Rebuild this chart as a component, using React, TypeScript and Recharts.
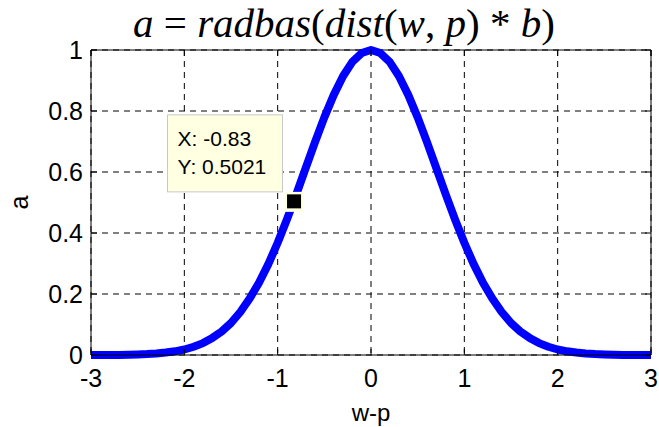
import React from 'react';
import {
  LineChart,
  Line,
  XAxis,
  YAxis,
  CartesianGrid,
  ReferenceLine,
  ReferenceDot,
} from 'recharts';

// Distance w-p (horizontal) and the radial basis output a (vertical)
const wp = [
  -3, -2.9, -2.8, -2.7, -2.6, -2.5, -2.4, -2.3, -2.2, -2.1,
  -2, -1.9, -1.8, -1.7, -1.6, -1.5, -1.4, -1.3, -1.2, -1.1,
  -1, -0.9, -0.8, -0.7, -0.6, -0.5, -0.4, -0.3, -0.2, -0.1,
  0, 0.1, 0.2, 0.3, 0.4, 0.5, 0.6, 0.7, 0.8, 0.9,
  1, 1.1, 1.2, 1.3, 1.4, 1.5, 1.6, 1.7, 1.8, 1.9,
  2, 2.1, 2.2, 2.3, 2.4, 2.5, 2.6, 2.7, 2.8, 2.9, 3,
];
const aOut = [
  0, 0, 0, 0, 0.001, 0.002, 0.003, 0.005, 0.008, 0.012,
  0.018, 0.027, 0.039, 0.056, 0.077, 0.105, 0.141, 0.185, 0.237, 0.298,
  0.368, 0.445, 0.527, 0.613, 0.698, 0.779, 0.852, 0.914, 0.961, 0.99,
  1, 0.99, 0.961, 0.914, 0.852, 0.779, 0.698, 0.613, 0.527, 0.445,
  0.368, 0.298, 0.237, 0.185, 0.141, 0.105, 0.077, 0.056, 0.039, 0.027,
  0.018, 0.012, 0.008, 0.005, 0.003, 0.002, 0.001, 0, 0, 0, 0,
];
const xTicks = [-3, -2, -1, 0, 1, 2, 3];
const yTicks = [0, 0.2, 0.4, 0.6, 0.8, 1];

// Data cursor
const tipX = -0.83;
const tipY = 0.5021;

const data = wp.map((x, i) => ({ wp: x, a: aOut[i] }));

const W = 659;
const H = 427;
const PLOT_LEFT = 91;
const PLOT_TOP = 50;
const PLOT_RIGHT_PAD = 8;
const X_AXIS_H = 72;
const PLOT_W = W - PLOT_LEFT - PLOT_RIGHT_PAD;
const PLOT_H = H - PLOT_TOP - X_AXIS_H;
const TICK_LEN = 6;

const tickFont = {
  fontFamily: '"Liberation Sans", Arial, sans-serif',
  fontSize: 25,
  fill: '#000',
};

const XTick = (props: any) => {
  const { x, y, payload } = props;
  return (
    <g>
      <line x1={x} x2={x} y1={y} y2={y - TICK_LEN} stroke="#000" strokeWidth={1} />
      <line x1={x} x2={x} y1={y - PLOT_H} y2={y - PLOT_H + TICK_LEN} stroke="#000" strokeWidth={1} />
      <text x={x} y={y + 32} textAnchor="middle" {...tickFont}>
        {String(payload.value)}
      </text>
    </g>
  );
};

const YTick = (props: any) => {
  const { x, y, payload } = props;
  return (
    <g>
      <line x1={x} x2={x + TICK_LEN} y1={y} y2={y} stroke="#000" strokeWidth={1} />
      <line x1={x + PLOT_W} x2={x + PLOT_W - TICK_LEN} y1={y} y2={y} stroke="#000" strokeWidth={1} />
      <text x={x - 8} y={y} dy="0.36em" textAnchor="end" {...tickFont}>
        {String(payload.value)}
      </text>
    </g>
  );
};

const tipFont = {
  fontFamily: '"Liberation Sans", Arial, sans-serif',
  fontSize: 21,
  fill: '#000',
};

const DataTip = (props: any) => {
  const { cx, cy } = props;
  const bx = cx - 126;
  const by = cy - 87;
  return (
    <g>
      <rect x={bx} y={by} width={115} height={77} fill="#ffffe1" stroke="#c8c8c8" strokeWidth={1} />
      <text x={bx + 10} y={by + 31} {...tipFont}>
        X: -0.83
      </text>
      <text x={bx + 10} y={by + 59} {...tipFont}>
        Y: 0.5021
      </text>
      <rect x={cx - 9} y={cy - 10} width={19} height={20} fill="#ffffe1" />
      <rect x={cx - 6.5} y={cy - 7.5} width={14} height={14} fill="#000" />
    </g>
  );
};

const up = { fontStyle: 'normal' as const };

export default function App() {
  return (
    <div style={{ position: 'absolute', left: 0, top: 0, width: W, height: H, background: '#fff' }}>
      <div
        style={{
          position: 'absolute',
          left: 133,
          top: 0,
          fontFamily: '"Liberation Serif", "Times New Roman", serif',
          fontStyle: 'italic',
          fontSize: 41,
          lineHeight: '46px',
          whiteSpace: 'nowrap',
          color: '#000',
        }}
      >
        a <span style={up}>=</span> radbas<span style={up}>(</span>dist<span style={up}>(</span>w
        <span style={up}>,</span> p<span style={up}>)</span> <span style={up}>*</span> b
        <span style={up}>)</span>
      </div>
      <LineChart
        width={W}
        height={H}
        data={data}
        margin={{ top: PLOT_TOP, right: PLOT_RIGHT_PAD, bottom: 0, left: 0 }}
      >
        <CartesianGrid stroke="#000" strokeDasharray="6 5" strokeWidth={1} />
        <XAxis
          dataKey="wp"
          type="number"
          domain={[-3, 3]}
          ticks={xTicks}
          height={X_AXIS_H}
          tickSize={0}
          tickMargin={0}
          tickLine={false}
          tick={<XTick />}
          axisLine={{ stroke: '#000' }}
          interval={0}
          label={{
            value: 'w-p',
            position: 'insideBottom',
            offset: 6,
            style: { ...tickFont, fontSize: 24 },
          }}
        />
        <YAxis
          dataKey="a"
          type="number"
          domain={[0, 1]}
          ticks={yTicks}
          width={PLOT_LEFT}
          tickSize={0}
          tickMargin={0}
          tickLine={false}
          tick={<YTick />}
          axisLine={{ stroke: '#000' }}
          interval={0}
          label={{
            value: 'a',
            angle: -90,
            position: 'insideLeft',
            offset: 19,
            style: { ...tickFont, fontSize: 25, textAnchor: 'middle' },
          }}
        />
        <ReferenceLine y={1} stroke="#000" strokeWidth={1} />
        <ReferenceLine x={3} stroke="#000" strokeWidth={1} />
        <Line
          type="linear"
          dataKey="a"
          stroke="#0000ff"
          strokeWidth={8}
          strokeLinejoin="round"
          dot={false}
          activeDot={false}
          isAnimationActive={false}
        />
        <ReferenceDot x={tipX} y={tipY} r={7} shape={<DataTip />} />
      </LineChart>
    </div>
  );
}
